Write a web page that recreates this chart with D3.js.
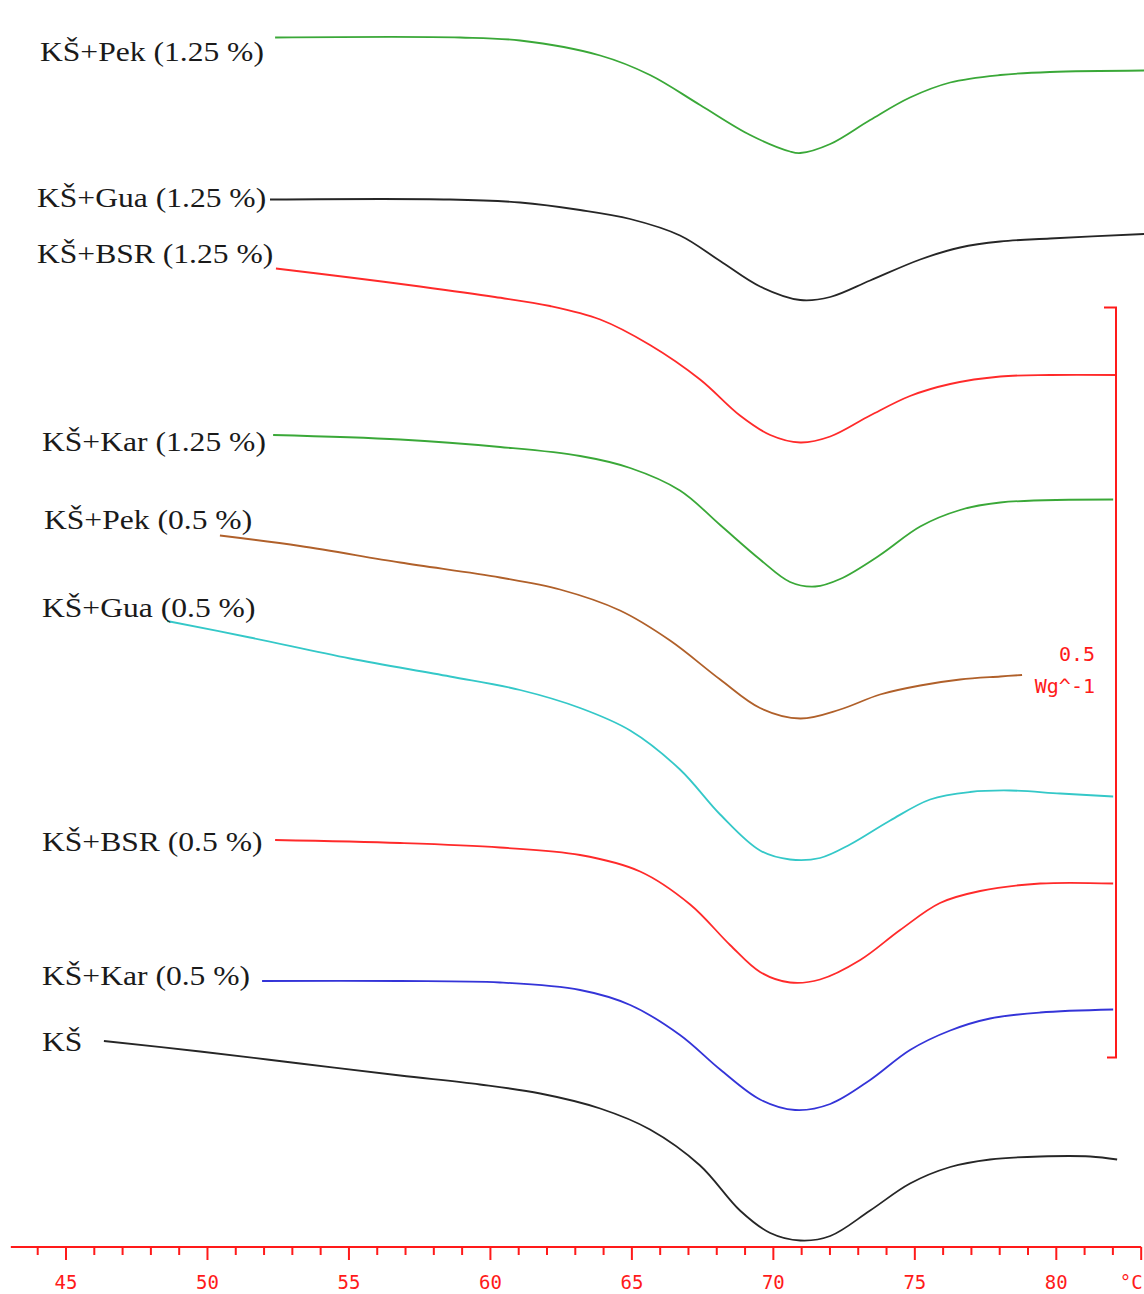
<!DOCTYPE html>
<html><head><meta charset="utf-8">
<script src="https://cdn.jsdelivr.net/npm/d3@7"></script>
<style>body{margin:0;background:#fff}svg{display:block}</style>
</head><body>
<script>
// Temperature (°C) and heat flow (mW/g, relative, offset per curve)
const pek125 = [[52.39,807],[58.93,807],[61.05,805],[63.88,795],[65.64,782],[67.41,762],[69.18,742],[70.59,731],[70.95,730],[72.01,736],[73.42,752],[74.83,767],[76.25,777],[78.02,782],[79.78,784],[83.11,785]];
const gua125 = [[52.21,699],[58.57,699],[61.05,697],[63.17,692],[64.94,686],[66.70,675],[68.12,658],[69.53,641],[70.95,632],[72.01,634],[73.42,645],[75.19,659],[76.60,667],[78.02,671],[79.78,673],[83.11,676]];
const bsr125 = [[52.42,653],[55.04,647],[57.51,641],[60.16,634],[62.11,628],[63.88,619],[65.64,602],[67.41,579],[68.82,555],[69.89,542],[70.95,537],[72.01,541],[73.42,555],[74.83,568],[76.25,576],[78.02,581],[79.78,582],[82.12,582]];
const kar125 = [[52.32,542],[56.81,539],[60.34,534],[63.17,528],[64.94,520],[66.70,505],[68.12,482],[69.53,459],[70.59,444],[71.48,441],[72.36,446],[73.77,462],[75.19,481],[76.60,492],[78.02,497],[82.01,499]];
const pek05 = [[50.44,475],[53.27,468],[56.81,457],[60.34,447],[62.46,439],[64.58,425],[66.35,405],[68.12,379],[69.53,360],[70.95,353],[72.36,359],[73.77,369],[75.19,375],[76.60,379],[78.02,381],[78.79,382]];
const gua05 = [[48.57,418],[51.50,407],[55.04,393],[58.57,381],[61.05,372],[63.17,360],[64.94,345],[66.70,319],[68.12,289],[69.53,265],[70.59,259],[71.65,260],[72.71,269],[74.13,285],[75.54,299],[76.95,304],[78.37,305],[80.14,303],[82.01,301]];
const bsr05 = [[52.39,272],[56.81,270],[60.34,267],[63.17,262],[65.29,251],[67.06,229],[68.47,202],[69.53,184],[70.59,177],[71.65,179],[73.07,192],[74.48,212],[75.89,230],[77.31,238],[79.43,243],[82.01,243]];
const kar05 = [[51.93,178],[56.81,178],[60.34,177],[63.17,172],[64.94,162],[66.70,142],[68.12,119],[69.53,99],[70.77,92],[72.01,96],[73.42,112],[74.83,132],[76.25,145],[77.66,153],[79.43,157],[82.01,159]];
const ks = [[46.34,138],[49.74,131],[53.27,123],[56.81,115],[59.63,109],[61.76,103],[63.88,93],[65.64,79],[67.41,55],[68.82,25],[69.89,10],[70.95,5],[72.01,8],[73.42,25],[74.83,43],[76.25,54],[77.66,59],[79.43,61],[81.20,61],[82.15,59]];

const seriesNames = ["KŠ+Pek (1.25 %)","KŠ+Gua (1.25 %)","KŠ+BSR (1.25 %)","KŠ+Kar (1.25 %)","KŠ+Pek (0.5 %)","KŠ+Gua (0.5 %)","KŠ+BSR (0.5 %)","KŠ+Kar (0.5 %)","KŠ"];
const seriesData = [pek125,gua125,bsr125,kar125,pek05,gua05,bsr05,kar05,ks];
const tickLabels = [45,50,55,60,65,70,75,80];
const scaleBarWg = 0.5;      // W/g
const scaleBarBase = 127;    // mW/g, bottom of scale bar
const scaleBarText = ["0.5","Wg^-1"];

// styles / layout
const colors = ["#3aa838","#262626","#ff2a2a","#3aa838","#b0602a","#34c8c8","#ff2a2a","#3434d8","#262626"];
const labelPos = [[40,61],[37,207],[37,263],[42,451],[44,529],[42,617],[42,851],[42,985],[42,1051]];

const W = 1144, H = 1294;
const svg = d3.select("body").append("svg").attr("width",W).attr("height",H);
const x = d3.scaleLinear().domain([45,80]).range([66,1056.3]);
const y = d3.scaleLinear().domain([0,832]).range([1248,0]);

const line = d3.line().x(d=>x(d[0])).y(d=>y(d[1])).curve(d3.curveCatmullRom.alpha(0.5));
seriesData.forEach((s,i)=>{
  svg.append("path").attr("d",line(s)).attr("fill","none")
    .attr("stroke",colors[i]).attr("stroke-width",1.8);
});
seriesNames.forEach((n,i)=>{
  svg.append("text")
    .attr("transform",`translate(${labelPos[i][0]},${labelPos[i][1]}) scale(1.17,1)`)
    .attr("font-family","Liberation Serif, serif").attr("font-size",27)
    .attr("fill","#1a1a1a").text(n);
});

// x axis
const red = "#ff1a1a";
const axisY = 1247;
const ax = svg.append("g");
ax.append("line").attr("x1",x(43.05)).attr("x2",x(83)).attr("y1",axisY).attr("y2",axisY)
  .attr("stroke",red).attr("stroke-width",2);
d3.range(44,84).forEach(t=>{
  const major = (t%5===0)||t===83;
  ax.append("line").attr("x1",x(t)).attr("x2",x(t)).attr("y1",axisY).attr("y2",axisY+(major?13:8))
    .attr("stroke",red).attr("stroke-width",2);
});
tickLabels.forEach(t=>{
  ax.append("text").attr("x",x(t)).attr("y",1289).attr("text-anchor","middle")
    .attr("font-family","DejaVu Sans Mono, monospace").attr("font-size",19).attr("fill",red).text(t);
});
ax.append("text").attr("x",x(83)-10).attr("y",1289).attr("text-anchor","middle")
  .attr("font-family","DejaVu Sans Mono, monospace").attr("font-size",19).attr("fill",red).text("°C");

// scale bar
const sbX = 1116;
const yb = y(scaleBarBase), yt = y(scaleBarBase + scaleBarWg*1000);
svg.append("path").attr("d",`M${sbX-12},${yt}H${sbX}V${yb}H${sbX-9}`)
  .attr("fill","none").attr("stroke",red).attr("stroke-width",2);
scaleBarText.forEach((t,i)=>{
  svg.append("text").attr("x",1095).attr("y",661+i*32).attr("text-anchor","end")
    .attr("font-family","DejaVu Sans Mono, monospace").attr("font-size",20).attr("fill",red).text(t);
});
</script>
</body></html>
